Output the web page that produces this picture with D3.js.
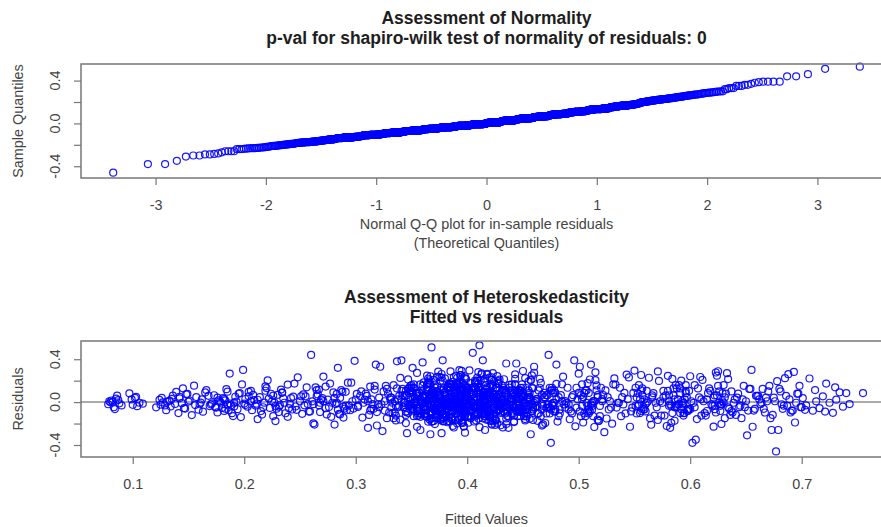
<!DOCTYPE html>
<html>
<head>
<meta charset="utf-8">
<script src="https://cdn.jsdelivr.net/npm/d3@7"></script>
<style>
  body { margin: 0; background: #fff; }
  svg { display: block; font-family: "Liberation Sans", Arial, sans-serif; }
</style>
</head>
<body>
<div id="chart"></div>
<script>
var width = 881,
    height = 527;

var qqTitle = ["Assessment of Normality", "p-val for shapiro-wilk test of normality of residuals: 0"];
var qqXLabel = ["Normal Q-Q plot for in-sample residuals", "(Theoretical Quantiles)"];
var qqYLabel = "Sample Quantiles";
var hetTitle = ["Assessment of Heteroskedasticity", "Fitted vs residuals"];
var hetXLabel = "Fitted Values";
var hetYLabel = "Residuals";

var qqTicks = [-3, -2, -1, 0, 1, 2, 3];
var fittedTicks = [0.1, 0.2, 0.3, 0.4, 0.5, 0.6, 0.7];
var residTicks = [-0.4, -0.2, 0, 0.2, 0.4];
var residTickLabels = ["-0.4", "", "0.0", "", "0.4"];

// fitted values, in thousandths
var fittedMilli = [
  78, 81, 83, 85, 79, 88, 86, 90, 82, 84, 87, 80, 97, 100, 102, 104, 99, 106, 103, 109,
  121, 124, 127, 130, 126, 133, 129, 136, 138, 131, 141, 135, 144, 139, 147, 142, 125, 149, 134, 145,
  142, 146, 150, 153, 148, 156, 151, 159, 155, 161, 157, 163, 160, 166, 162, 169, 165, 171, 168, 174,
  170, 173, 176, 178, 181, 175, 184, 179, 186, 182, 188, 185, 190, 177, 192, 187, 195, 183, 198, 191,
  176, 180, 183, 187, 189, 193, 185, 196, 191, 199, 194, 201, 197, 204, 200, 206, 203, 208, 182, 210,
  201, 204, 207, 209, 212, 214, 206, 217, 219, 211, 222, 216, 224, 227, 221, 229, 226, 231, 233, 228,
  212, 215, 218, 220, 223, 225, 228, 230, 232, 235, 237, 239, 241, 244, 246, 248, 226, 234, 243, 219,
  231, 234, 236, 239, 242, 245, 247, 250, 252, 255, 257, 260, 262, 265, 267, 269, 240, 253, 258, 264,
  251, 254, 256, 259, 261, 263, 266, 268, 271, 273, 275, 278, 280, 282, 285, 287, 289, 270, 277, 284,
  262, 265, 268, 271, 273, 276, 279, 281, 284, 286, 289, 291, 294, 296, 298, 300, 274, 283, 292, 267,
  281, 283, 286, 288, 291, 293, 295, 297, 299, 302, 304, 306, 308, 311, 313, 315, 317, 319, 290, 301,
  302, 305, 307, 310, 312, 314, 316, 318, 320, 322, 324, 326, 328, 330, 332, 334, 309, 321, 327, 313,
  311, 314, 317, 319, 321, 323, 325, 328, 331, 333, 335, 337, 339, 341, 343, 345, 329, 336, 342, 326,
  331, 333, 335, 337, 339, 340, 342, 344, 346, 347, 349, 351, 352, 354, 356, 358, 338, 345, 350, 355,
  332, 334, 336, 338, 341, 343, 345, 348, 350, 353, 355, 357, 359, 336, 344, 349, 352, 356, 340, 347,
  346, 348, 350, 352, 354, 356, 358, 360, 362, 364, 366, 368, 370, 372, 374, 376, 378, 357, 363, 369,
  347, 349, 351, 353, 355, 358, 360, 362, 364, 367, 369, 371, 373, 375, 377, 379, 352, 361, 366, 374,
  348, 350, 353, 355, 357, 359, 361, 363, 365, 368, 370, 372, 374, 376, 378, 380, 351, 358, 367, 375,
  345, 349, 352, 354, 356, 359, 361, 364, 366, 368, 371, 373, 375, 377, 379, 381, 355, 362, 370, 378,
  361, 363, 365, 367, 369, 371, 373, 375, 377, 379, 381, 383, 385, 387, 389, 391, 393, 395, 397, 399,
  362, 364, 366, 368, 370, 372, 374, 376, 378, 380, 382, 384, 386, 388, 390, 392, 394, 396, 398, 400,
  360, 363, 365, 368, 370, 373, 375, 378, 380, 383, 385, 388, 390, 393, 395, 398, 371, 381, 391, 386,
  364, 366, 369, 371, 374, 376, 379, 382, 384, 387, 389, 392, 394, 397, 399, 367, 377, 386, 396, 372,
  361, 365, 368, 372, 375, 378, 381, 384, 387, 390, 393, 396, 399, 363, 370, 377, 383, 389, 395, 398,
  362, 366, 369, 373, 376, 379, 382, 385, 388, 391, 394, 397, 400, 364, 371, 380, 386, 392, 398, 374,
  381, 383, 385, 387, 389, 391, 393, 395, 397, 399, 401, 403, 405, 407, 409, 411, 413, 415, 417, 419,
  382, 384, 386, 388, 390, 392, 394, 396, 398, 400, 402, 404, 406, 408, 410, 412, 414, 416, 418, 420,
  380, 383, 386, 389, 392, 395, 398, 401, 404, 407, 410, 413, 416, 419, 422, 425, 428, 394, 406, 418,
  385, 388, 391, 394, 397, 400, 403, 406, 409, 412, 415, 418, 421, 424, 427, 430, 396, 408, 417, 426,
  384, 387, 390, 393, 396, 399, 402, 405, 408, 411, 414, 417, 420, 423, 426, 429, 401, 410, 419, 404,
  386, 389, 392, 395, 398, 401, 404, 407, 410, 413, 416, 419, 422, 425, 428, 391, 400, 412, 421, 415,
  388, 391, 394, 397, 400, 403, 406, 409, 412, 415, 418, 421, 424, 427, 430, 393, 402, 411, 420, 429,
  411, 413, 415, 417, 419, 421, 423, 425, 427, 429, 431, 433, 435, 437, 439, 441, 443, 445, 447, 449,
  412, 414, 416, 418, 420, 422, 424, 426, 428, 430, 432, 434, 436, 438, 440, 442, 444, 446, 448, 450,
  410, 413, 416, 419, 422, 425, 428, 431, 434, 437, 440, 443, 446, 449, 452, 455, 458, 424, 436, 448,
  415, 418, 421, 424, 427, 430, 433, 436, 439, 442, 445, 448, 451, 454, 457, 460, 426, 438, 450, 432,
  414, 417, 420, 423, 426, 429, 432, 435, 438, 441, 444, 447, 450, 453, 456, 459, 422, 434, 446, 458,
  441, 443, 445, 447, 449, 451, 453, 455, 457, 459, 461, 463, 465, 467, 469, 471, 473, 475, 477, 479,
  442, 444, 446, 448, 450, 452, 454, 456, 458, 460, 462, 464, 466, 468, 470, 472, 474, 476, 478, 480,
  440, 443, 446, 449, 452, 455, 458, 461, 464, 467, 470, 473, 476, 479, 445, 451, 457, 463, 469, 475,
  444, 447, 450, 453, 456, 459, 462, 465, 468, 471, 474, 477, 480, 448, 454, 460, 466, 472, 478, 483,
  472, 475, 478, 481, 484, 487, 490, 493, 496, 499, 502, 505, 508, 511, 514, 517, 485, 494, 503, 512,
  474, 477, 480, 483, 486, 489, 492, 495, 498, 501, 504, 507, 510, 513, 516, 519, 482, 491, 500, 509,
  476, 479, 482, 485, 488, 491, 494, 497, 500, 503, 506, 509, 512, 515, 518, 521, 488, 498, 508, 517,
  502, 505, 508, 511, 514, 517, 520, 523, 526, 529, 532, 535, 538, 541, 544, 547, 550, 553, 556, 559,
  501, 504, 507, 510, 513, 516, 519, 522, 525, 528, 531, 534, 537, 540, 543, 546, 549, 552, 555, 558,
  503, 506, 509, 512, 515, 518, 521, 524, 527, 530, 533, 536, 539, 542, 545, 548, 551, 554, 557, 560,
  552, 555, 557, 560, 562, 565, 567, 570, 572, 575, 577, 580, 582, 585, 587, 590, 592, 595, 597, 599,
  551, 554, 556, 559, 561, 564, 566, 569, 571, 574, 576, 579, 581, 584, 586, 589, 591, 594, 596, 598,
  553, 558, 563, 568, 573, 578, 583, 588, 593, 598, 556, 561, 566, 571, 576, 581, 586, 591, 596, 600,
  581, 584, 587, 590, 593, 596, 599, 602, 605, 608, 611, 614, 617, 620, 623, 626, 629, 604, 615, 627,
  582, 585, 588, 591, 594, 597, 600, 603, 606, 609, 612, 615, 618, 621, 624, 627, 630, 595, 610, 622,
  580, 583, 586, 589, 592, 598, 601, 607, 613, 616, 619, 625, 628, 631, 594, 604, 610, 622, 634, 637,
  621, 623, 625, 627, 629, 631, 633, 635, 637, 639, 641, 643, 645, 647, 649, 651, 653, 655, 657, 659,
  622, 626, 630, 634, 638, 642, 646, 650, 654, 658, 624, 628, 632, 636, 640, 644, 648, 652, 656, 660,
  661, 663, 665, 667, 669, 671, 673, 675, 677, 679, 681, 683, 685, 687, 689, 691, 693, 695, 697, 699,
  662, 666, 670, 674, 678, 682, 686, 690, 694, 698, 664, 668, 672, 676, 680, 684, 688, 692, 696, 700,
  701, 704, 707, 710, 713, 716, 719, 722, 725, 728, 731, 734, 737, 740, 743, 755, 703, 712, 721, 730,
  341, 345, 349, 353, 357, 361, 365, 369, 373, 377, 381, 385, 389, 393, 397, 401, 405, 409, 413, 417,
  343, 347, 351, 355, 359, 363, 367, 371, 375, 379, 383, 387, 391, 395, 399, 403, 407, 411, 415, 419,
  350, 354, 358, 362, 366, 370, 374, 378, 382, 386, 390, 394, 398, 402, 406, 410, 414, 418, 422, 426,
  352, 356, 360, 364, 368, 372, 376, 380, 384, 388, 392, 396, 400, 404, 408, 412, 416, 420, 424, 428,
  360, 364, 368, 372, 376, 380, 384, 388, 392, 396, 400, 404, 408, 412, 416, 420, 424, 428, 432, 436,
  362, 366, 370, 374, 378, 382, 386, 390, 394, 398, 402, 406, 410, 414, 418, 422, 426, 430, 434, 438,
  371, 375, 379, 383, 387, 391, 395, 399, 403, 407, 411, 415, 419, 423, 427, 431, 435, 439, 443, 447,
  373, 377, 381, 385, 389, 393, 397, 401, 405, 409, 413, 417, 421, 425, 429, 433, 437, 441, 445, 449,
  380, 384, 388, 392, 396, 400, 404, 408, 412, 416, 420, 424, 428, 432, 436, 440, 444, 448, 452, 456,
  382, 386, 390, 394, 398, 402, 406, 410, 414, 418, 422, 426, 430, 434, 438, 442, 446, 450, 454, 458,
  391, 395, 399, 403, 407, 411, 415, 419, 423, 427, 431, 435, 439, 443, 447, 451, 455, 459, 463, 467,
  395, 399, 403, 407, 411, 415, 419, 423, 427, 431, 435, 439, 443, 447, 451, 455, 459, 463, 467, 471
];

// in-sample residuals, in thousandths, same order as fittedMilli
var residMilli = [
  -20, 15, -48, 32, 8, -11, 60, -31, 3, -65, 19, -2, 82, -25, 39, -38, 25, -6, 48, -15,
  -49, 21, -3, -75, 40, 13, -31, 61, -17, 4, -102, 30, -10, 95, -60, 50, -24, 76, -40, 129,
  35, -57, 5, -121, 73, -28, 15, -71, 153, -4, 47, -89, -20, 112, 25, -37, 90, -12, 59, -47,
  -21, 64, -96, 5, 38, -51, 121, -4, -76, 27, -30, 97, -130, 16, 50, -13, 78, -62, 165, -40,
  41, -54, 17, 266, -103, 5, -23, 84, -4, 300, -66, 29, -140, 54, -14, 104, -43, 68, -82, -32,
  -26, 95, -75, 19, -158, 46, 6, -48, 147, -15, 33, -116, 78, -5, 203, -61, 61, -93, 117, -36,
  22, -84, -5, 131, -54, 7, -177, 68, -29, 36, -104, 164, -17, 51, -41, 231, -130, 87, -69, 106,
  -43, 91, -6, -137, 38, 173, -72, 7, -109, 54, -18, 440, -198, 112, -30, 23, -57, 72, -88, 138,
  54, -30, 138, -88, 7, -210, 72, -6, 238, -57, 23, -137, 91, -18, -109, 112, -43, 38, 173, -72,
  -19, 57, -93, 8, 145, -45, -6, -210, 320, 40, -144, 96, -32, 181, -60, 24, -115, 76, -76, 117,
  40, -6, -115, 96, -32, 181, -76, 8, 385, -45, 57, -144, 24, -240, 145, -19, 117, -93, -60, 76,
  -33, 100, -6, 59, -120, 25, -63, 350, -20, 330, -270, 8, 123, -97, 42, -150, 79, -47, 152, -79,
  8, -63, 152, -218, 42, -20, 100, -150, 25, -6, -97, 380, 59, 390, -47, -120, 79, -33, 123, -79,
  44, -102, 8, 128, -35, -163, 62, -7, -290, 212, -66, 320, -21, 83, -126, 26, -49, 105, 159, -83,
  -49, 159, -126, 26, 105, -7, -196, 83, -35, 44, 272, -83, 8, -171, 62, -21, 128, -66, 226, -102,
  65, -36, 134, -131, 9, -87, -260, 46, -7, 166, -161, 510, -51, 27, -22, 197, -106, 86, -68, 109,
  -22, 109, -68, 27, -131, 166, 370, -106, 46, -300, 86, -7, 235, -51, 9, -178, 134, -36, 65, -87,
  134, -51, 9, -231, 86, -7, 65, -131, 219, -36, 27, -87, 284, -166, 109, -22, 46, -106, 166, -68,
  -87, 46, 166, -7, -106, 109, -51, 9, 204, -152, 134, -36, 65, -290, 27, -22, 86, -131, -68, 390,
  48, -110, 181, -23, 9, -205, 90, -53, 229, -7, 68, -176, 29, -90, 140, -38, 298, -142, 114, -71,
  -38, 140, -90, 29, 208, -53, -7, 114, -137, 68, -23, 168, -162, 9, 246, -71, 48, -110, -285, 90,
  9, -71, 114, -183, 48, -23, 236, -110, 90, -7, 287, -237, 29, -53, 140, -131, 68, -38, 176, -90,
  -137, 68, -53, 164, 9, -90, 29, -188, 140, -23, 90, -168, 214, -7, 48, -110, 262, -38, 114, -71,
  185, -23, 90, -146, -7, 199, -71, 48, -222, 114, -38, 9, 140, -110, 68, -157, 29, -53, 292, -90,
  -53, 29, -179, 140, 68, -110, 9, 171, -38, -199, 251, -90, 48, 114, -23, 222, -137, -7, 90, -71,
  29, -90, 140, -7, -165, 68, -53, 114, -228, 9, -23, 178, 460, -134, 48, 530, -38, 90, -110, -71,
  -71, 114, -23, 233, -110, 9, 183, -53, 48, -137, 90, -7, 29, -172, 140, -38, 390, -260, 68, -90,
  90, -7, -149, 48, 166, -71, 9, -192, 114, -38, 280, -110, 29, -53, 206, -159, 68, -23, 140, -90,
  -110, 48, 225, -23, -71, 140, 9, -181, 90, -7, -38, 255, -137, 68, 29, -216, 174, -53, 114, -90,
  68, -170, 29, 114, -38, -90, 296, -7, 187, -234, 48, -53, 140, -110, 9, 210, -128, 90, -23, -71,
  -23, 140, -90, 9, 239, -137, 68, -53, -154, 268, -7, 90, -202, 29, 169, -71, 114, -38, 48, -110,
  162, -53, 48, -225, -7, 90, -110, 201, 29, -38, 140, -177, 9, 243, -90, 68, -23, 114, -137, -71,
  46, -106, 9, 158, -51, 65, -174, -7, 134, -36, 27, -87, 360, -240, 86, -22, 217, -131, 109, -68,
  -22, 86, -131, 27, 228, -68, 9, -169, 65, -7, 134, -106, 46, -36, 166, -186, 360, -51, 109, -87,
  134, -36, -106, 65, 9, -213, 175, -7, 86, -131, 27, 259, -68, 46, -158, 109, -22, 196, -51, -87,
  -68, 27, 166, -131, 46, -7, 213, -87, 109, -180, 9, 65, -36, -106, -300, 330, 134, -22, 86, -51,
  9, -163, 86, -51, 134, -22, -236, 65, 161, -106, 27, -7, 290, -131, 46, -68, 232, -36, 109, -87,
  -36, 109, -87, 27, 166, -7, -131, 65, 209, -51, 9, -175, 134, -22, 46, -106, 440, -380, 86, -68,
  86, -22, 46, -131, 9, 224, -68, -156, 134, -7, 27, -106, 179, -36, -195, 65, -51, 109, -87, 350,
  -106, 166, -7, 65, -171, 27, 249, -51, 109, -219, 46, -22, 134, -87, 9, -131, 202, -36, 86, -68,
  27, -87, 134, -36, 86, -167, 9, 218, -208, 65, -106, -7, 170, -51, 46, 274, -131, -22, 109, -68,
  -51, 109, -7, -182, 65, -22, 134, -87, 390, 27, -131, 86, -36, 350, -232, 46, 9, -106, 166, -68,
  134, -36, 27, -106, 237, -7, -160, 65, -51, 330, -190, 109, -87, 9, 156, -131, 46, -22, 86, -68,
  -22, 86, -131, 166, 9, -68, 46, -226, 265, -36, 109, -106, -7, 205, -173, 27, -51, 134, -87, 65,
  65, -106, 177, -22, 9, -164, 134, -280, 46, -51, 221, -7, -131, 86, 27, -87, 294, -36, 109, -68,
  -87, 46, -7, 211, -131, 109, -36, 65, -153, 9, 166, -51, 134, -22, 257, -230, 86, -106, 27, -68,
  27, -131, 86, -36, 278, -176, 9, 109, -68, -201, 163, -7, 46, -106, 230, -51, 134, -22, 65, -87,
  44, -102, 128, -21, 8, -211, 83, -49, 198, -7, -126, 245, -240, 62, -35, 159, -66, 26, -83, 105,
  -35, 159, -83, 26, 105, -151, 62, -7, 286, -126, 44, -223, 8, 216, -49, -21, 128, -102, 83, -66,
  83, -49, 227, -126, 8, 62, -193, 128, -21, -83, 253, -7, 44, -167, 105, -35, 26, -102, 159, -66,
  62, -102, 159, -21, 8, 105, -66, -380, -350, 44, 207, -126, 128, -35, 276, -7, 83, -49, 26, -83,
  -21, 128, -49, 83, -126, 44, 241, -7, -158, 234, 8, -83, 105, -229, 62, -35, 159, -102, 26, -66,
  105, -35, -174, 26, 200, -66, 8, 128, -102, 83, -21, 288, -204, 44, -7, 159, -126, 62, -49, -83,
  42, -97, 152, -20, 8, -150, 270, -63, 100, -6, -120, 79, -33, 25, -47, -310, 123, 300, -79, 59,
  -33, 100, -6, 215, -97, 42, -150, 8, 123, -63, 247, -20, 79, -120, 25, -47, 152, -79, -230, 59,
  59, -20, 123, -97, 8, 152, -260, 42, -460, -260, 100, -63, 223, -33, 25, -79, 282, -6, 79, -47,
  25, -63, 100, -120, 195, -20, 59, -97, -190, 152, -6, 42, -150, 8, 123, -33, 261, -79, 79, -47,
  38, -30, 220, -80, 7, -57, 54, 173, -6, -100, 23, 91, -43, 84, -18, 84, -72, 112, -88, 138,
  27, -92, 149, -5, -64, 55, -183, 11, 101, -31, -139, 38, -22, 176, -80, 118, -44, 228, -117, 74,
  -48, 123, -18, 79, -112, 6, 241, -76, 43, -146, 142, -9, 95, -191, 23, -35, 183, -59, 61, -97,
  96, -4, -137, 44, 172, -63, 10, -179, 124, -30, 60, -98, 224, -23, 80, -113, 27, -49, 151, -75,
  -81, 56, -17, 247, -93, 29, -148, 93, 5, -43, 139, -181, 45, -10, 126, -58, 186, -120, 72, -36,
  153, -36, 70, -110, 12, -66, 174, -25, 36, -194, 103, -3, -90, 52, 219, -135, 30, -82, 115, -41,
  -9, 105, -176, 63, -51, 140, -73, 21, 252, -108, 3, -38, 170, -151, 84, -16, 46, -101, 113, -56,
  39, -121, 128, -40, 189, -12, -84, 214, -133, 14, 71, -68, -14, 157, -200, 19, 91, -28, 64, -88,
  -107, 33, -27, 165, 85, -156, 1, -55, 136, -103, 258, -26, 50, -172, 111, -2, 48, -52, 90, -71,
  66, -178, 107, -26, 2, 131, -70, -125, 205, -39, 33, -53, 196, -13, -130, 69, -87, 132, -67, 35,
  -69, 160, -1, -128, 51, 88, -40, 133, -86, 263, -210, 48, -28, 16, 135, -124, 87, -37, 17, -84,
  110, -30, 68, -85, 200, -56, 0, -168, 67, -17, 158, -152, 35, -51, 88, -105, 192, -43, 31, -68,
  -24, 87, -150, 133, -8, 20, -125, 270, -70, 106, -205, 4, 166, -88, 49, -29, 129, -104, 67, -53
];

// inverse normal cdf (Acklam), for the theoretical quantiles of the Q-Q plot
function qnorm(p) {
    var a = [-3.969683028665376e+01, 2.209460984245205e+02, -2.759285104469687e+02, 1.383577518672690e+02, -3.066479806614716e+01, 2.506628277459239e+00],
        b = [-5.447609879822406e+01, 1.615858368580409e+02, -1.556989798598866e+02, 6.680131188771972e+01, -1.328068155288572e+01],
        c = [-7.784894002430293e-03, -3.223964580411365e-01, -2.400758277161838e+00, -2.549732539343734e+00, 4.374664141464968e+00, 2.938163982698783e+00],
        d = [7.784695709041462e-03, 3.224671290700398e-01, 2.445134137142996e+00, 3.754408661907416e+00];
    var q, r;
    if (p < 0.02425 || p > 1 - 0.02425) {
        q = Math.sqrt(-2 * Math.log(p < 0.5 ? p : 1 - p));
        var v = (((((c[0] * q + c[1]) * q + c[2]) * q + c[3]) * q + c[4]) * q + c[5]) /
            ((((d[0] * q + d[1]) * q + d[2]) * q + d[3]) * q + 1);
        return p < 0.5 ? v : -v;
    }
    q = p - 0.5;
    r = q * q;
    return (((((a[0] * r + a[1]) * r + a[2]) * r + a[3]) * r + a[4]) * r + a[5]) * q /
        (((((b[0] * r + b[1]) * r + b[2]) * r + b[3]) * r + b[4]) * r + 1);
}

var n = Math.min(fittedMilli.length, residMilli.length);
var points = d3.range(n).map(function (i) {
    return {fitted: fittedMilli[i] / 1000, resid: residMilli[i] / 1000};
});
var qqPoints = points.map(function (d) { return d.resid; })
    .sort(d3.ascending)
    .map(function (v, i) {
        return {theo: qnorm((i + 0.5) / n), sample: v};
    });

var left = 81, right = 892, midX = 486.5;
var top1 = 64, bottom1 = 178, top2 = 341, bottom2 = 457;
var frameColor = "#777", textColor = "#444";

var xQQ = d3.scaleLinear().domain([-3.676, 3.676]).range([left, right]);
var yQQ = d3.scaleLinear().domain([-0.51, 0.555]).range([bottom1, top1]);
var xFit = d3.scaleLinear().domain([0.0536, 0.781]).range([left, right]);
var yFit = d3.scaleLinear().domain([-0.512, 0.570]).range([bottom2, top2]);

var svg = d3.select("#chart")
    .append("svg")
    .attr("width", width)
    .attr("height", height);

svg.append("rect")
    .attr("width", width)
    .attr("height", height)
    .attr("fill", "#fff");

function title(lines, y0) {
    lines.forEach(function (t, i) {
        svg.append("text")
            .attr("x", midX)
            .attr("y", y0 + i * 20)
            .attr("text-anchor", "middle")
            .style("font-size", "17.5px")
            .style("font-weight", "bold")
            .attr("fill", "#1e1e1e")
            .text(t);
    });
}

function xAxis(scale, y, ticks) {
    var g = svg.append("g")
        .attr("transform", "translate(0," + y + ")")
        .call(d3.axisBottom(scale)
            .tickValues(ticks)
            .tickSize(7)
            .tickPadding(15)
            .tickFormat(function (d) { return String(d); }));
    g.select(".domain").remove();
    g.selectAll(".tick line").attr("stroke", frameColor).attr("stroke-width", 1.2);
    g.selectAll(".tick text")
        .attr("fill", textColor)
        .style("font-size", "14.4px")
        .style("font-family", "'Liberation Sans', Arial, sans-serif");
}

function yAxis(scale) {
    var g = svg.append("g")
        .attr("transform", "translate(" + left + ",0)")
        .call(d3.axisLeft(scale)
            .tickValues(residTicks)
            .tickSize(7)
            .tickFormat(""));
    g.select(".domain").remove();
    g.selectAll(".tick line").attr("stroke", frameColor).attr("stroke-width", 1.2);

    residTicks.forEach(function (v, i) {
        if (!residTickLabels[i]) return;
        svg.append("text")
            .attr("transform", "translate(60," + scale(v) + ") rotate(-90)")
            .attr("text-anchor", "middle")
            .style("font-size", "14.4px")
            .attr("fill", textColor)
            .text(residTickLabels[i]);
    });
}

function yLabel(t, cy) {
    svg.append("text")
        .attr("transform", "translate(22.5," + cy + ") rotate(-90)")
        .attr("text-anchor", "middle")
        .style("font-size", "14.4px")
        .attr("fill", textColor)
        .text(t);
}

function xLabel(t, y) {
    svg.append("text")
        .attr("x", midX)
        .attr("y", y)
        .attr("text-anchor", "middle")
        .style("font-size", "14.4px")
        .attr("fill", textColor)
        .text(t);
}

function frame(y0, y1) {
    svg.append("rect")
        .attr("x", left)
        .attr("y", y0)
        .attr("width", right - left)
        .attr("height", y1 - y0)
        .attr("fill", "none")
        .attr("stroke", frameColor)
        .attr("stroke-width", 1.5);
}

function dots(g, data, cx, cy) {
    g.selectAll("circle")
        .data(data)
        .enter().append("circle")
        .attr("cx", cx)
        .attr("cy", cy)
        .attr("r", 3.5)
        .attr("fill", "none")
        .attr("stroke", "#0000ff")
        .attr("stroke-opacity", 0.9)
        .attr("stroke-width", 1.2);
}

// ---- top panel: normal Q-Q plot
title(qqTitle, 24);

dots(svg.append("g"), qqPoints,
    function (d) { return xQQ(d.theo); },
    function (d) { return yQQ(d.sample); });

xAxis(xQQ, bottom1, qqTicks);
yAxis(yQQ);
frame(top1, bottom1);
xLabel(qqXLabel[0], 229);
xLabel(qqXLabel[1], 248);
yLabel(qqYLabel, (top1 + bottom1) / 2);

// ---- bottom panel: fitted vs residuals
title(hetTitle, 302.5);

svg.append("line")
    .attr("x1", left)
    .attr("x2", right)
    .attr("y1", yFit(0))
    .attr("y2", yFit(0))
    .attr("stroke", "#aaa")
    .attr("stroke-width", 2);

dots(svg.append("g"), points,
    function (d) { return xFit(d.fitted); },
    function (d) { return yFit(d.resid); });

xAxis(xFit, bottom2, fittedTicks);
yAxis(yFit);
frame(top2, bottom2);
xLabel(hetXLabel, 524);
yLabel(hetYLabel, (top2 + bottom2) / 2);
</script>
</body>
</html>
